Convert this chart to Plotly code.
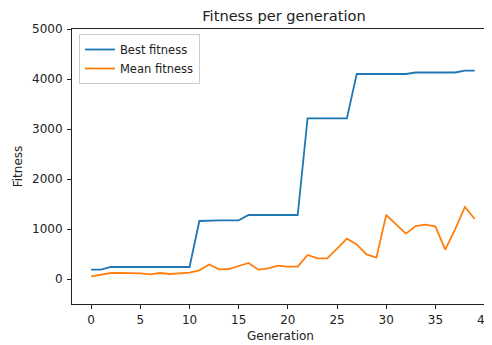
import plotly.graph_objects as go

generations = list(range(40))
best_fitness = [187, 187, 240, 240, 240, 240, 240, 240, 240, 240,
                240, 1160, 1173, 1173, 1173, 1173, 1280, 1280, 1280, 1280,
                1280, 1280, 3213, 3213, 3213, 3213, 3213, 4100, 4100, 4100,
                4100, 4100, 4100, 4130, 4130, 4130, 4130, 4130, 4167, 4167]
mean_fitness = [53, 80, 120, 120, 120, 113, 93, 120, 100, 113,
                127, 173, 290, 193, 200, 260, 320, 187, 213, 267,
                247, 247, 480, 413, 413, 607, 807, 693, 493, 427,
                1280, 1093, 907, 1060, 1087, 1053, 587, 993, 1440, 1200]
x_ticks = [0, 5, 10, 15, 20, 25, 30, 35, 40]
y_ticks = [0, 1000, 2000, 3000, 4000, 5000]

# page body has an 8px margin; compensate so the plot lands where the reference has it
OFF = 8
W, H = 492 - OFF, 345 - OFF
L, R, T, B = 72 - OFF, 0, 29 - OFF, 41

font = "DejaVu Sans"
txt = "#222222"
fig = go.Figure()
fig.add_trace(go.Scatter(x=generations, y=best_fitness, mode="lines", name="Best fitness",
                         line=dict(color="#1f77b4", width=1.8)))
fig.add_trace(go.Scatter(x=generations, y=mean_fitness, mode="lines", name="Mean fitness",
                         line=dict(color="#ff7f0e", width=1.8)))

axis_common = dict(showgrid=False, zeroline=False, showline=True, linecolor="#222222", linewidth=1,
                   ticks="outside", ticklen=4, tickwidth=1, tickcolor="#222222",
                   ticklabeloverflow="allow",
                   tickfont=dict(family=font, size=12, color=txt))
fig.update_layout(
    width=W, height=H,
    margin=dict(l=L, r=R, t=T, b=B, pad=0),
    paper_bgcolor="white", plot_bgcolor="white",
    font=dict(family=font, size=12, color=txt),
    title=dict(text="Fitness per generation", x=(284 - OFF) / W, xref="container", xanchor="center",
               y=1 - (16 - OFF) / H, yref="container", yanchor="middle",
               font=dict(family=font, size=14.6, color=txt)),
    xaxis=dict(range=[-1.95, 40.45], tickvals=x_ticks, mirror=True, ticklabelstandoff=1,
               title=dict(text="Generation", font=dict(family=font, size=12, color=txt), standoff=5),
               **axis_common),
    yaxis=dict(range=[-500, 5000], tickvals=y_ticks, ticklabelstandoff=2,
               title=dict(text="Fitness", font=dict(family=font, size=12, color=txt), standoff=6),
               **axis_common),
    legend=dict(x=7 / (W - L - R), y=1 - 5 / (H - T - B), xanchor="left", yanchor="top",
                bgcolor="rgba(255,255,255,0.8)", bordercolor="#cccccc", borderwidth=1,
                font=dict(family=font, size=11.5, color=txt), itemwidth=30,
                tracegroupgap=0),
    showlegend=True,
)
fig.write_html("out.html")
